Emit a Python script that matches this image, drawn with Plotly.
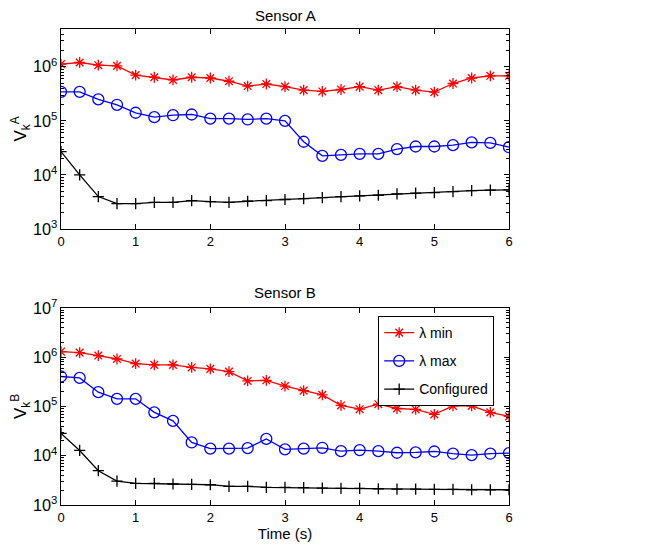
import plotly.graph_objects as go
from plotly.subplots import make_subplots

time_s = [i * 0.25 for i in range(25)]

a_lmin = [1.12e6, 1.2e6, 1.07e6, 1.04e6, 7.0e5, 6.4e5, 5.7e5, 6.4e5, 6.2e5, 5.4e5,
          4.4e5, 4.8e5, 4.3e5, 3.7e5, 3.5e5, 3.8e5, 4.3e5, 3.7e5, 4.3e5, 3.7e5,
          3.4e5, 4.9e5, 6.2e5, 6.8e5, 6.8e5]
a_lmax = [3.44e5, 3.44e5, 2.5e5, 1.98e5, 1.41e5, 1.17e5, 1.27e5, 1.31e5, 1.1e5, 1.1e5,
          1.06e5, 1.1e5, 1.0e5, 4.1e4, 2.25e4, 2.35e4, 2.45e4, 2.45e4, 3.0e4, 3.35e4,
          3.35e4, 3.55e4, 4.0e4, 3.9e4, 3.25e4]
a_conf = [2.7e4, 1.0e4, 3.97e3, 2.95e3, 2.95e3, 3.1e3, 3.1e3, 3.35e3, 3.2e3, 3.1e3,
          3.25e3, 3.35e3, 3.5e3, 3.65e3, 3.8e3, 3.95e3, 4.1e3, 4.2e3, 4.45e3, 4.6e3,
          4.7e3, 4.9e3, 5.1e3, 5.2e3, 5.3e3]

b_lmin = [1.3e6, 1.24e6, 1.08e6, 9.2e5, 7.4e5, 7.0e5, 7.0e5, 6.2e5, 5.8e5, 5.1e5,
          3.3e5, 3.4e5, 2.6e5, 2.1e5, 1.72e5, 1.05e5, 8.8e4, 1.11e5, 9.1e4, 8.7e4,
          6.9e4, 1.03e5, 1.03e5, 7.6e4, 6.3e4]
b_lmax = [4.06e5, 3.8e5, 1.95e5, 1.43e5, 1.43e5, 7.6e4, 5.1e4, 1.86e4, 1.39e4, 1.39e4,
          1.43e4, 2.2e4, 1.35e4, 1.39e4, 1.45e4, 1.24e4, 1.3e4, 1.24e4, 1.15e4, 1.17e4,
          1.22e4, 1.1e4, 1.03e4, 1.1e4, 1.13e4]
b_conf = [2.84e4, 1.28e4, 4.97e3, 3.06e3, 2.75e3, 2.75e3, 2.67e3, 2.63e3, 2.58e3, 2.39e3,
          2.39e3, 2.28e3, 2.28e3, 2.25e3, 2.21e3, 2.18e3, 2.18e3, 2.14e3, 2.11e3, 2.11e3,
          2.08e3, 2.08e3, 2.04e3, 2.04e3, 2.04e3]

names = ["λ min", "λ max", "Configured"]
colors = ["#ff0000", "#0000ff", "#000000"]
symbols = ["asterisk-open", "circle-open", "cross-thin-open"]
sizes = [9, 11, 8]

fig = make_subplots(rows=2, cols=1)

for row, series in [(1, [a_lmin, a_lmax, a_conf]), (2, [b_lmin, b_lmax, b_conf])]:
    for k, ys in enumerate(series):
        fig.add_trace(go.Scatter(
            x=time_s, y=ys, mode="lines+markers", name=names[k],
            legendgroup=names[k],
            line=dict(color=colors[k], width=1.3),
            marker=dict(symbol=symbols[k], size=sizes[k], color=colors[k],
                        line=dict(color=colors[k], width=1.3)),
            showlegend=(row == 2)), row=row, col=1)

font = "Liberation Sans, Arial, sans-serif"
ax_common = dict(showline=True, mirror="ticks", linecolor="black", linewidth=1,
                 ticks="inside", ticklen=5, tickcolor="black", showgrid=False,
                 zeroline=False, automargin=False,
                 tickfont=dict(size=13, color="black"))

fig.update_xaxes(range=[0, 6], dtick=1, **ax_common)
fig.update_yaxes(type="log", dtick=1, exponentformat="power",
                 minor=dict(ticks="inside", ticklen=3, tickcolor="black"),
                 **ax_common)
fig.update_yaxes(range=[3, 6.699], row=1, col=1)
fig.update_yaxes(range=[3, 7], row=2, col=1)

fig.update_layout(
    width=654, height=551,
    margin=dict(l=53, r=153, t=21, b=54),
    plot_bgcolor="white", paper_bgcolor="white",
    font=dict(family=font, color="black", size=13),
    xaxis=dict(domain=[0, 1]),
    yaxis=dict(domain=[0.58, 1.0],
               title=dict(text="V<sub>k</sub><sup>A</sup>", font=dict(size=17), standoff=1)),
    xaxis2=dict(domain=[0, 1], title=dict(text="Time (s)", font=dict(size=15), standoff=2)),
    yaxis2=dict(domain=[0, 0.414],
                title=dict(text="V<sub>k</sub><sup>B</sup>", font=dict(size=17), standoff=1)),
    legend=dict(x=0.708, y=0.397, xanchor="left", yanchor="top",
                bgcolor="white", bordercolor="black", borderwidth=1,
                font=dict(size=14), tracegroupgap=7),
    annotations=[
        dict(text="Sensor A", x=0.5, y=1.0, xref="paper", yref="paper",
             xanchor="center", yanchor="bottom", yshift=3, showarrow=False,
             font=dict(size=15)),
        dict(text="Sensor B", x=0.5, y=0.414, xref="paper", yref="paper",
             xanchor="center", yanchor="bottom", yshift=5, showarrow=False,
             font=dict(size=15)),
    ],
)

fig.write_html("out.html")
